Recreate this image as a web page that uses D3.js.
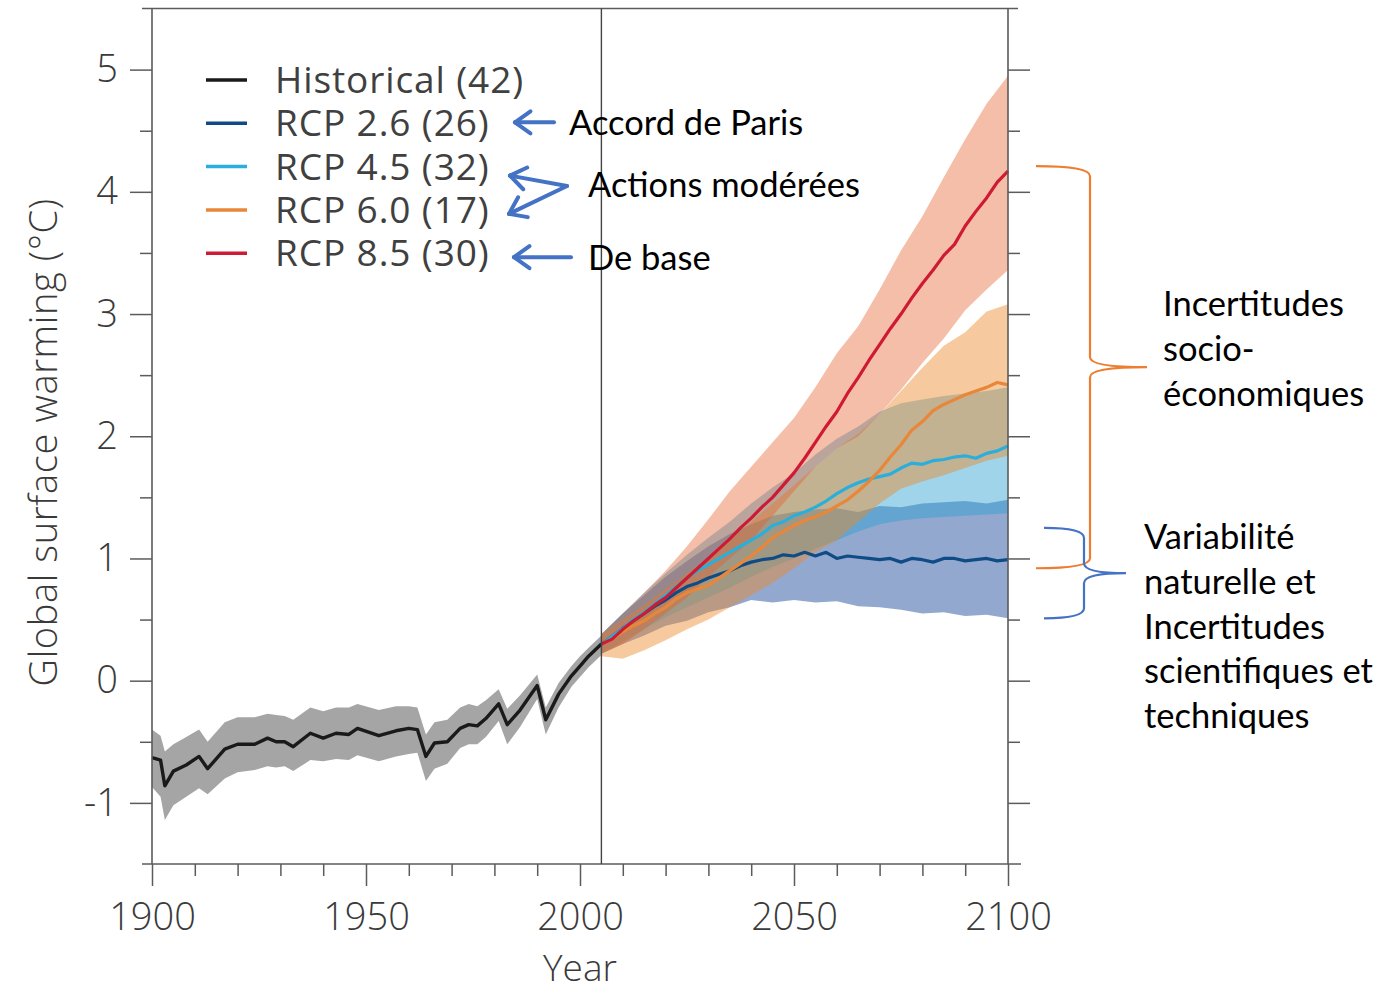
<!DOCTYPE html>
<html><head><meta charset="utf-8">
<script src="https://cdn.jsdelivr.net/npm/d3@7"></script>
<style>
html,body{margin:0;padding:0;background:#fff;}
svg{display:block;}
.axis-font{font-family:"Open Sans","Noto Sans",sans-serif;font-weight:300;}
.ann{font-family:Lato,"Open Sans",sans-serif;}
</style></head>
<body>
<svg id="chart" width="1382" height="993"></svg>
<script>
// ---------------- DATA ----------------
const histYears = [1900,1902,1903,1905,1908,1911,1913,1917,1920,1924,1927,1929,1931,1933,1937,1940,1943,1946,1948,1953,1957,1960,1962,1964,1966,1969,1972,1974,1976,1978,1981,1983,1986,1990,1992,1995,1998,2000,2002,2005];
const histMean  = [-0.63,-0.65,-0.86,-0.74,-0.69,-0.62,-0.72,-0.56,-0.52,-0.52,-0.47,-0.50,-0.50,-0.54,-0.43,-0.47,-0.43,-0.44,-0.39,-0.45,-0.41,-0.39,-0.40,-0.62,-0.51,-0.50,-0.39,-0.36,-0.37,-0.31,-0.19,-0.36,-0.24,-0.04,-0.32,-0.11,0.04,0.12,0.20,0.30];
const histHi    = [-0.40,-0.45,-0.58,-0.52,-0.46,-0.40,-0.50,-0.34,-0.30,-0.30,-0.27,-0.28,-0.29,-0.32,-0.22,-0.25,-0.22,-0.22,-0.19,-0.24,-0.21,-0.21,-0.22,-0.44,-0.34,-0.32,-0.22,-0.19,-0.21,-0.16,-0.07,-0.23,-0.12,0.05,-0.22,-0.02,0.12,0.20,0.27,0.37];
const histLo    = [-0.87,-0.95,-1.14,-1.02,-0.95,-0.88,-0.93,-0.80,-0.75,-0.73,-0.70,-0.71,-0.70,-0.74,-0.65,-0.66,-0.64,-0.65,-0.61,-0.66,-0.62,-0.60,-0.59,-0.82,-0.72,-0.68,-0.55,-0.52,-0.52,-0.46,-0.33,-0.52,-0.38,-0.15,-0.44,-0.22,-0.05,0.03,0.11,0.21];

const futYears = [2005,2007.5,2010,2012.5,2015,2017.5,2020,2022.5,2025,2027.5,2030,2032.5,2035,2037.5,2040,2042.5,2045,2047.5,2050,2052.5,2055,2057.5,2060,2062.5,2065,2067.5,2070,2072.5,2075,2077.5,2080,2082.5,2085,2087.5,2090,2092.5,2095,2097.5,2100];
const rcp26 = [0.30,0.36,0.43,0.49,0.55,0.61,0.66,0.72,0.77,0.80,0.84,0.87,0.90,0.94,0.97,0.99,1.00,1.03,1.02,1.05,1.02,1.05,1.00,1.02,1.01,1.00,0.99,1.00,0.97,1.00,0.99,0.97,1.00,1.00,0.98,0.99,1.00,0.98,0.99];
const rcp45 = [0.30,0.36,0.43,0.50,0.56,0.63,0.70,0.77,0.84,0.90,0.95,1.00,1.05,1.10,1.15,1.20,1.27,1.30,1.35,1.38,1.42,1.47,1.53,1.58,1.62,1.65,1.67,1.69,1.74,1.78,1.77,1.80,1.81,1.83,1.84,1.82,1.86,1.88,1.92];
const rcp60 = [0.30,0.34,0.40,0.45,0.49,0.55,0.60,0.67,0.72,0.75,0.78,0.84,0.90,0.96,1.02,1.09,1.17,1.22,1.27,1.31,1.34,1.38,1.43,1.48,1.55,1.63,1.72,1.83,1.93,2.05,2.12,2.21,2.26,2.30,2.34,2.37,2.40,2.44,2.42];
const rcp85 = [0.30,0.34,0.42,0.49,0.55,0.62,0.68,0.76,0.84,0.92,1.00,1.08,1.16,1.25,1.33,1.42,1.50,1.60,1.70,1.82,1.95,2.08,2.20,2.35,2.48,2.62,2.75,2.88,3.00,3.13,3.25,3.36,3.48,3.57,3.72,3.84,3.95,4.08,4.17];

const bandYears = [2005,2010,2015,2020,2025,2030,2035,2040,2045,2050,2055,2060,2065,2070,2075,2080,2085,2090,2095,2100];
const rcp26Lo = [0.22,0.30,0.37,0.45,0.49,0.56,0.60,0.66,0.64,0.66,0.64,0.65,0.61,0.60,0.58,0.55,0.56,0.53,0.54,0.51];
const rcp26Hi = [0.38,0.55,0.70,0.85,0.98,1.10,1.20,1.28,1.35,1.38,1.40,1.41,1.38,1.43,1.42,1.45,1.46,1.47,1.45,1.48];
const rcp45Lo = [0.22,0.32,0.42,0.52,0.60,0.68,0.76,0.85,0.93,1.00,1.08,1.15,1.22,1.28,1.31,1.33,1.34,1.35,1.36,1.37];
const rcp45Hi = [0.38,0.55,0.72,0.88,1.03,1.17,1.30,1.45,1.58,1.70,1.85,1.98,2.08,2.20,2.27,2.30,2.33,2.35,2.37,2.40];
const rcp60Lo = [0.20,0.18,0.25,0.33,0.42,0.50,0.60,0.70,0.80,0.92,1.05,1.15,1.30,1.45,1.57,1.63,1.68,1.74,1.80,1.84];
const rcp60Hi = [0.38,0.50,0.62,0.75,0.88,1.00,1.15,1.30,1.45,1.60,1.75,1.90,2.02,2.18,2.37,2.56,2.74,2.85,3.02,3.08];
const rcp85Lo = [0.22,0.30,0.42,0.55,0.68,0.85,1.00,1.15,1.35,1.55,1.75,1.90,2.00,2.18,2.38,2.60,2.80,3.03,3.20,3.36];
const rcp85Hi = [0.38,0.55,0.72,0.90,1.10,1.32,1.55,1.75,1.95,2.15,2.40,2.68,2.90,3.20,3.52,3.80,4.12,4.43,4.72,4.95];

const legendLabels = ["Historical (42)","RCP 2.6 (26)","RCP 4.5 (32)","RCP 6.0 (17)","RCP 8.5 (30)"];
const legendColors = ["#1a1a1a","#0f4c86","#2aaedb","#e8873a","#cf1a34"];

const xMajorTicks = [1900,1950,2000,2050,2100];
const xMinorTicks = d3.range(1900,2101,10);
const yMajorTicks = [-1,0,1,2,3,4,5];
const yMinorTicks = [-0.5,0.5,1.5,2.5,3.5,4.5];
const splitYear = 2005;

const arrowNotes = ["Accord de Paris","Actions modérées","De base"];
const braceNotes = [
  {color:"#ed7d31", y0:4.21, y1:0.92, lines:["Incertitudes","socio-","économiques"]},
  {color:"#4472c4", y0:1.25, y1:0.51, lines:["Variabilité","naturelle et","Incertitudes","scientifiques et","techniques"]}
];

// ---------------- LAYOUT ----------------
const svg = d3.select("#chart");
const pL = 152, pR = 1008, pT = 8.5, pB = 864;
const x = d3.scaleLinear().domain([1900,2100]).range([pL,pR]);
const y = d3.scaleLinear().domain([-1.5,5.5]).range([pB,pT]);

const axisColor = "#5b5b5b";
const labelColor = "#3a3a3a";

// ---------------- BANDS ----------------
const areaGen = (lo,hi,xs) => d3.area()
  .x((d,i)=>x(xs[i])).y0((d,i)=>y(lo[i])).y1((d,i)=>y(hi[i]));

const g = svg.append("g");
g.append("path").attr("d", areaGen(histLo,histHi,histYears)(histYears)).attr("fill","#a5a5a5");

const bands = [
  {lo:rcp26Lo, hi:rcp26Hi, color:"rgb(39,81,159)", op:0.5},
  {lo:rcp45Lo, hi:rcp45Hi, color:"rgb(44,159,208)", op:0.45},
  {lo:rcp60Lo, hi:rcp60Hi, color:"rgb(236,138,40)", op:0.45},
  {lo:rcp85Lo, hi:rcp85Hi, color:"rgb(228,92,40)", op:0.4}
];
bands.forEach(b=>{
  g.append("path").attr("d", areaGen(b.lo,b.hi,bandYears)(bandYears))
    .attr("fill", b.color).attr("fill-opacity", b.op);
});

// ---------------- LINES ----------------
const lineGen = (xs) => d3.line().x((d,i)=>x(xs[i])).y(d=>y(d));
g.append("path").attr("d", lineGen(histYears)(histMean)).attr("fill","none")
  .attr("stroke", legendColors[0]).attr("stroke-width",3.4).attr("stroke-linejoin","round");
[[rcp26,1],[rcp45,2],[rcp60,3],[rcp85,4]].forEach(([s,ci])=>{
  g.append("path").attr("d", lineGen(futYears)(s)).attr("fill","none")
    .attr("stroke", legendColors[ci]).attr("stroke-width",3.2).attr("stroke-linejoin","round");
});

// ---------------- AXES ----------------
const axG = svg.append("g").attr("class","axis-font");
function styleAxis(sel){
  sel.select(".domain").remove();
  sel.selectAll(".tick line").attr("stroke",axisColor).attr("stroke-width",1.5);
}
axG.append("g").attr("transform",`translate(0,${pB})`)
  .call(d3.axisBottom(x).tickValues(xMinorTicks.filter(t=>!xMajorTicks.includes(t))).tickSize(12).tickFormat(""))
  .call(styleAxis);
const xb = axG.append("g").attr("transform",`translate(0,${pB})`)
  .call(d3.axisBottom(x).tickValues(xMajorTicks).tickSize(22).tickPadding(17).tickFormat(d3.format("d")))
  .call(styleAxis);
xb.selectAll("text").attr("font-size",38).attr("fill",labelColor).attr("font-family","'Open Sans',sans-serif").attr("font-weight",300);
axG.append("g").attr("transform",`translate(${pL},0)`)
  .call(d3.axisLeft(y).tickValues(yMinorTicks).tickSize(12).tickFormat(""))
  .call(styleAxis);
const yl = axG.append("g").attr("transform",`translate(${pL},0)`)
  .call(d3.axisLeft(y).tickValues(yMajorTicks).tickSize(22).tickPadding(12).tickFormat(d=> d<0 ? "-"+Math.abs(d) : d))
  .call(styleAxis);
yl.selectAll("text").attr("font-size",38).attr("fill",labelColor).attr("font-family","'Open Sans',sans-serif").attr("font-weight",300);
axG.append("g").attr("transform",`translate(${pR},0)`)
  .call(d3.axisRight(y).tickValues(yMinorTicks).tickSize(12).tickFormat(""))
  .call(styleAxis);
axG.append("g").attr("transform",`translate(${pR},0)`)
  .call(d3.axisRight(y).tickValues(yMajorTicks).tickSize(22).tickFormat(""))
  .call(styleAxis);
const frame = svg.append("g").attr("stroke",axisColor).attr("stroke-width",1.6);
frame.append("line").attr("x1",pL-10).attr("x2",pR+13).attr("y1",pB).attr("y2",pB);
frame.append("line").attr("x1",pL-10).attr("x2",pR+10).attr("y1",pT).attr("y2",pT);
frame.append("line").attr("x1",pL).attr("x2",pL).attr("y1",pT).attr("y2",pB);
frame.append("line").attr("x1",pR).attr("x2",pR).attr("y1",pT).attr("y2",pB);
svg.append("line").attr("x1",x(splitYear)).attr("x2",x(splitYear)).attr("y1",pT).attr("y2",pB)
  .attr("stroke","#444").attr("stroke-width",1.4);

svg.append("text").attr("class","axis-font").attr("x",580).attr("y",981)
  .attr("text-anchor","middle").attr("font-size",37).attr("fill",labelColor).text("Year");
svg.append("text").attr("class","axis-font")
  .attr("transform",`translate(57,${y(1.95)}) rotate(-90)`)
  .attr("text-anchor","middle").attr("font-size",38).attr("letter-spacing",0.6).attr("fill",labelColor)
  .text("Global surface warming (°C)");

// ---------------- LEGEND ----------------
const legendY0 = 80, legendStep = 43.3;
const lg = svg.append("g");
legendLabels.forEach((lab,i)=>{
  const yy = legendY0 + i*legendStep;
  lg.append("line").attr("x1",206).attr("x2",247).attr("y1",yy).attr("y2",yy)
    .attr("stroke",legendColors[i]).attr("stroke-width",3.5);
  lg.append("text").attr("x",275).attr("y",yy+13)
    .attr("font-family","'Open Sans',sans-serif").attr("font-weight",400)
    .attr("font-size",37).attr("letter-spacing",0.9).attr("fill","#404040").text(lab);
});

// ---------------- ANNOTATIONS ----------------
const blue = "#4472c4";
function arrow(gg, x1,y1,x2,y2){
  gg.append("line").attr("x1",x1).attr("y1",y1).attr("x2",x2).attr("y2",y2);
  const a = Math.atan2(y1-y2, x1-x2), L = 19, sp = 0.62;
  [a+sp, a-sp].forEach(t=>{
    gg.append("line").attr("x1",x2).attr("y1",y2).attr("x2",x2+L*Math.cos(t)).attr("y2",y2+L*Math.sin(t));
  });
}
const ag = svg.append("g").attr("stroke",blue).attr("stroke-width",4).attr("stroke-linecap","round");
const tg = svg.append("g").attr("class","ann");
const annSize = 34.5;
arrow(ag, 554, legendY0+legendStep*1-1, 515, legendY0+legendStep*1-1);
tg.append("text").attr("x",569).attr("y",135).attr("font-size",annSize).attr("fill","#000").text(arrowNotes[0]);
arrow(ag, 567, 186, 510, legendY0+legendStep*2+9);
arrow(ag, 567, 186, 509, legendY0+legendStep*3+4);
tg.append("text").attr("x",588).attr("y",197).attr("font-size",annSize).attr("fill","#000").text(arrowNotes[1]);
arrow(ag, 571, legendY0+legendStep*4+4, 514, legendY0+legendStep*4+4);
tg.append("text").attr("x",588).attr("y",270).attr("font-size",annSize).attr("fill","#000").text(arrowNotes[2]);

function brace(color, xs, xm, xt, ya, yb){
  const ym = (ya+yb)/2, r = 10;
  const p = d3.path();
  p.moveTo(xs, ya);
  p.quadraticCurveTo(xm, ya, xm, ya+r);
  p.lineTo(xm, ym-r);
  p.quadraticCurveTo(xm, ym, xt, ym);
  p.quadraticCurveTo(xm, ym, xm, ym+r);
  p.lineTo(xm, yb-r);
  p.quadraticCurveTo(xm, yb, xs, yb);
  svg.append("path").attr("d",p.toString()).attr("fill","none").attr("stroke",color).attr("stroke-width",2.2);
}
brace(braceNotes[0].color, 1036, 1090, 1147, y(braceNotes[0].y0), y(braceNotes[0].y1));
brace(braceNotes[1].color, 1044, 1084, 1126, y(braceNotes[1].y0), y(braceNotes[1].y1));
braceNotes[0].lines.forEach((t,i)=>{
  tg.append("text").attr("x",1163).attr("y",316+i*45).attr("font-size",annSize).attr("fill","#000").text(t);
});
braceNotes[1].lines.forEach((t,i)=>{
  tg.append("text").attr("x",1144).attr("y",549+i*44.8).attr("font-size",annSize).attr("fill","#000").text(t);
});
</script>
</body></html>
